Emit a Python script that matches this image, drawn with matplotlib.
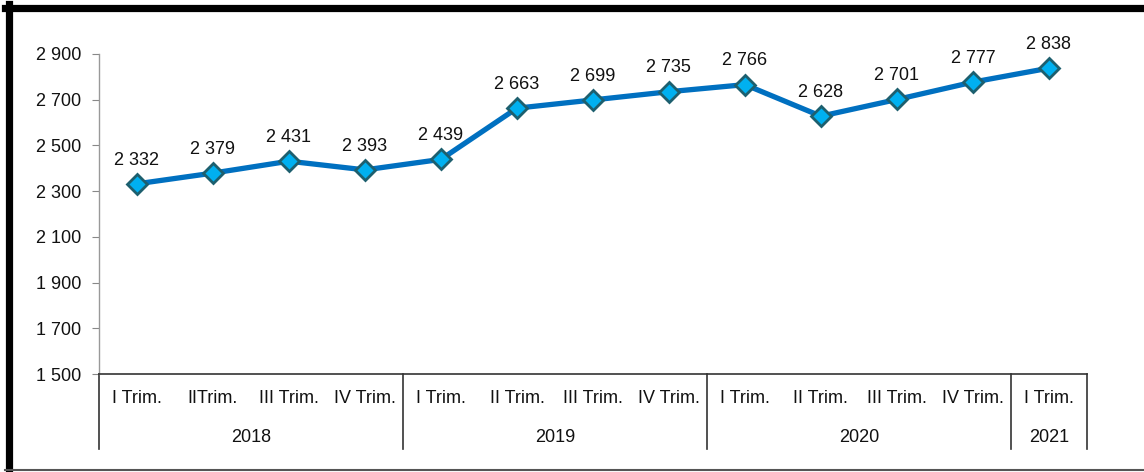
import matplotlib.pyplot as plt
from matplotlib.lines import Line2D
import matplotlib.transforms as mtransforms

plt.rcParams["font.family"] = ["Liberation Sans", "DejaVu Sans"]

# quarterly values
values = [2332, 2379, 2431, 2393, 2439, 2663, 2699, 2735, 2766, 2628, 2701, 2777, 2838]
quarters = ["I Trim.", "IITrim.", "III Trim.", "IV Trim.",
            "I Trim.", "II Trim.", "III Trim.", "IV Trim.",
            "I Trim.", "II Trim.", "III Trim.", "IV Trim.",
            "I Trim."]
years = ["2018", "2019", "2020", "2021"]
year_sizes = [4, 4, 4, 1]
yticks = [1500, 1700, 1900, 2100, 2300, 2500, 2700, 2900]

FS = 13


def fmt(v):
    # thousands with a space
    return f"{v:,}".replace(",", " ")


fig = plt.figure(figsize=(11.44, 4.72), dpi=100)
ax = fig.add_axes([0.0865, 0.2076, 0.8636, 0.678])

x = list(range(len(values)))
ax.plot(x, values, "-", color="#0070C0", linewidth=3.8, zorder=2)
ax.plot(x, values, "D", markersize=10.5, markerfacecolor="#00B0F0",
        markeredgecolor="#1D5F6E", markeredgewidth=2.0, zorder=3)

for xi, v in zip(x, values):
    ax.annotate(fmt(v), (xi, v), xytext=(0, 11), textcoords="offset points",
                ha="center", va="bottom", fontsize=FS, color="#111111")

ax.set_xlim(-0.5, len(values) - 0.5)
ax.set_ylim(1500, 2900)
ax.set_yticks(yticks)
ax.set_yticklabels([fmt(t) for t in yticks], fontsize=FS, color="#111111")
ax.tick_params(axis="y", length=5, color="#888888", pad=8)
ax.set_xticks([])

for side in ["top", "right"]:
    ax.spines[side].set_visible(False)
ax.spines["left"].set_color("#999999")
ax.spines["left"].set_linewidth(1.0)
ax.spines["bottom"].set_color("#333333")
ax.spines["bottom"].set_linewidth(1.2)

# category axis with year groups
trans = mtransforms.blended_transform_factory(ax.transData, ax.transAxes)
for xi, q in zip(x, quarters):
    ax.text(xi, -0.078, q, transform=trans, ha="center", va="center",
            fontsize=FS, color="#111111")

start = 0
bounds = [-0.5]
for yr, n in zip(years, year_sizes):
    mid = start + (n - 1) / 2
    ax.text(mid, -0.197, yr, transform=trans, ha="center", va="center",
            fontsize=FS, color="#111111")
    start += n
    bounds.append(start - 0.5)
for b in bounds:
    ax.plot([b, b], [0, -0.234], transform=trans, color="#333333",
            linewidth=1.2, clip_on=False)

# outer frame
fig.add_artist(Line2D([0.0075, 0.0075], [0.005, 0.9915], color="black",
                      linewidth=5.2, transform=fig.transFigure))
fig.add_artist(Line2D([0.0045, 1.0], [0.984, 0.984], color="black",
                      linewidth=5.2, transform=fig.transFigure))
fig.add_artist(Line2D([0.0045, 1.0], [0.004, 0.004], color="#555555",
                      linewidth=1.5, transform=fig.transFigure))

fig.savefig("out.png", dpi=100)
